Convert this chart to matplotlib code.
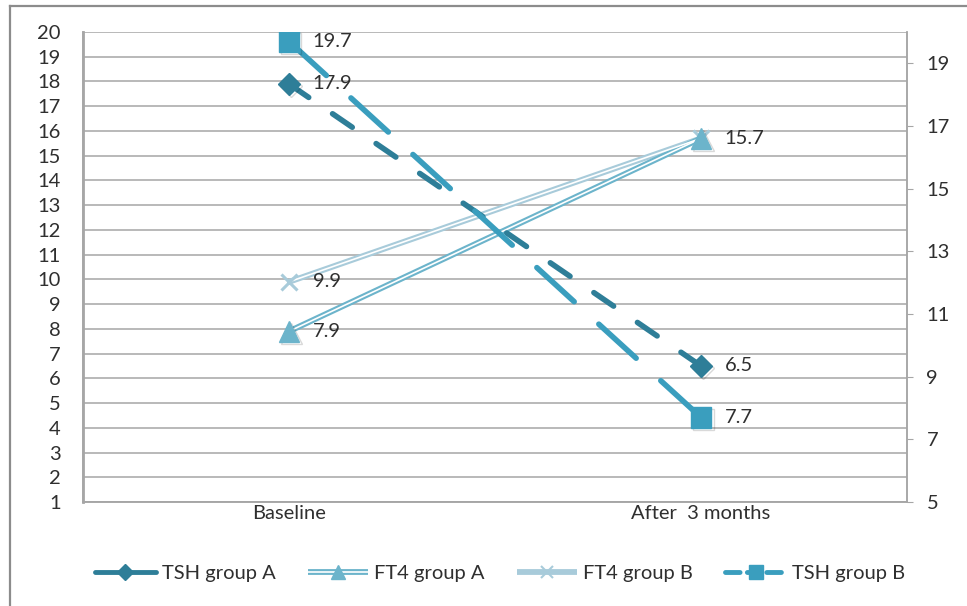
import matplotlib
matplotlib.use("Agg")
import matplotlib.pyplot as plt
from matplotlib.lines import Line2D
from matplotlib.legend_handler import HandlerTuple
import matplotlib.patheffects as pe

plt.rcParams['font.family'] = ['Lato', 'DejaVu Sans']

categories = ["Baseline", "After  3 months"]
tsh_a = [17.9, 6.5]
ft4_a = [7.9, 15.7]
ft4_b = [9.9, 15.7]
tsh_b = [19.7, 7.7]
left_ticks = list(range(1, 21))
right_ticks = [5, 7, 9, 11, 13, 15, 17, 19]

c_tsha = "#2E7E98"
c_tshb = "#3A9EBE"
c_ft4a = "#6CB4CB"
c_ft4b = "#A8CBDA"
txt = "#2F2F2F"
grid_c = "#A6A6A6"
fs = 14.5

W, H = 967, 606
fig = plt.figure(figsize=(W / 100, H / 100), dpi=100)
fig.patch.set_facecolor("white")
# outer frame (left and top edges visible)
fig.add_artist(Line2D([10 / W, 10 / W], [0, 1 - 6 / H], color="#8C8C8C", lw=1.6, transform=fig.transFigure))
fig.add_artist(Line2D([10 / W, 1], [1 - 6 / H, 1 - 6 / H], color="#8C8C8C", lw=1.6, transform=fig.transFigure))

ax = fig.add_axes([83 / W, 1 - 502 / H, (907 - 83) / W, (502 - 32) / H])
ax2 = ax.twinx()

x = list(range(len(categories)))
ax.set_xlim(-0.5, 1.5)
ax.set_ylim(1, 20)
ax2.set_ylim(5, 20)

ax.set_yticks(left_ticks)
ax.set_yticklabels([str(t) for t in left_ticks])
ax2.set_yticks(right_ticks)
ax2.set_yticklabels([str(t) for t in right_ticks])
ax.set_xticks(x)
ax.set_xticklabels(categories)

ax.grid(axis="y", color=grid_c, lw=1.1)
ax.set_axisbelow(True)
ax.tick_params(axis="y", length=0, pad=16, labelsize=fs, labelcolor=txt)
ax.tick_params(axis="x", length=0, pad=2, labelsize=fs, labelcolor=txt)
ax2.tick_params(axis="y", length=4, pad=10, labelsize=fs, labelcolor=txt, color=grid_c)
for a in (ax, ax2):
    for s in a.spines.values():
        s.set_color(grid_c)
        s.set_linewidth(1.1)
    a.spines["top"].set_visible(False)
ax.spines["left"].set_linewidth(2.0)

shadow = [pe.SimpleLineShadow(offset=(1.5, -1.5), alpha=0.15, shadow_color="black"), pe.Normal()]
lw = 4.0

# FT4 group B (double line)
ax.plot(x, ft4_b, color=c_ft4b, lw=4.2, solid_capstyle="butt", zorder=3)
ax.plot(x, ft4_b, color="white", lw=1.2, solid_capstyle="butt", zorder=3.1)
ax.plot(x, ft4_b, ls="none", marker="x", ms=12, mew=2.2, color=c_ft4b, zorder=3.2)
# FT4 group A (double line)
ax.plot(x, ft4_a, color=c_ft4a, lw=4.2, solid_capstyle="butt", zorder=3)
ax.plot(x, ft4_a, color="white", lw=1.2, solid_capstyle="butt", zorder=3.1)
ax.plot(x, ft4_a, ls="none", marker="^", ms=15, color=c_ft4a, zorder=3.3, path_effects=shadow)
# TSH group A (dashed)
ax.plot(x, tsh_a, color=c_tsha, lw=lw, ls=(0, (4.3, 5.2)), dash_capstyle="round", zorder=4)
ax.plot(x, tsh_a, ls="none", marker="D", ms=11.5, color=c_tsha, zorder=4.1, path_effects=shadow)
# TSH group B (dashed, right axis)
ax2.plot(x, tsh_b, color=c_tshb, lw=lw, ls=(0, (9.1, 6.0)), dash_capstyle="round", zorder=4)
ax2.plot(x, tsh_b, ls="none", marker="s", ms=15, color=c_tshb, zorder=4.1, path_effects=shadow)

# data labels
seen = set()
for a, vals in ((ax, tsh_a), (ax, ft4_a), (ax, ft4_b), (ax2, tsh_b)):
    for xi, v in zip(x, vals):
        key = (id(a), xi, v)
        if key in seen:
            continue
        seen.add(key)
        a.annotate(f"{v}", (xi, v), xytext=(17, 0), textcoords="offset points",
                   ha="left", va="center", fontsize=fs, color=txt, zorder=6)

# legend
h_tsha = Line2D([], [], color=c_tsha, lw=3.5, marker="D", ms=8, solid_capstyle="round")
h_ft4a = (Line2D([], [], color=c_ft4a, lw=4.2, solid_capstyle="butt"),
          Line2D([], [], color="white", lw=1.2, solid_capstyle="butt"),
          Line2D([], [], ls="none", marker="^", ms=10, color=c_ft4a))
h_ft4b = (Line2D([], [], color=c_ft4b, lw=4.2, solid_capstyle="butt"),
          Line2D([], [], ls="none", marker="x", ms=9, mew=1.5, color=c_ft4b))
h_tshb = Line2D([], [], color=c_tshb, lw=3.5, marker="s", ms=10, ls=(0, (3.0, 1.5, 1.0, 3)),
                dash_capstyle="round")
leg = fig.legend([h_tsha, h_ft4a, h_ft4b, h_tshb],
                 ["TSH group A", "FT4 group A", "FT4 group B", "TSH group B"],
                 loc="center", bbox_to_anchor=(500 / W, 1 - 573 / H), ncol=4, frameon=False,
                 fontsize=fs, handlelength=3.0, columnspacing=1.6, handletextpad=0.3,
                 handler_map={tuple: HandlerTuple(ndivide=1)})
for t in leg.get_texts():
    t.set_color(txt)

fig.savefig("out.png", dpi=100, facecolor="white")
